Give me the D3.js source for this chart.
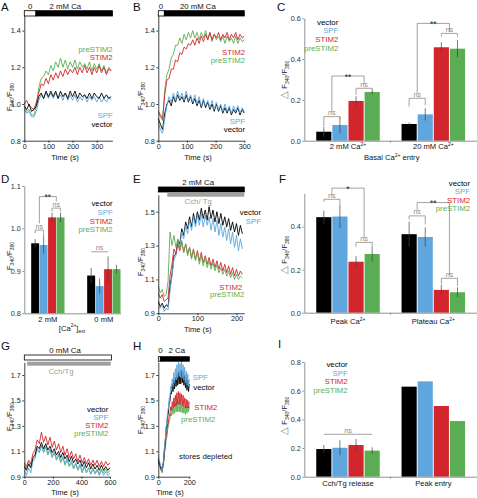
<!DOCTYPE html>
<html><head><meta charset="utf-8">
<script src="https://cdn.jsdelivr.net/npm/d3@7"></script>
<style>
body{margin:0;background:#fff;}
svg{display:block;font-family:"Liberation Sans",Arial,Helvetica,sans-serif;}
</style></head><body>
<svg id="fig" width="477" height="498"></svg>
<script>
// ---------------- DATA ----------------
const series = ["vector","SPF","STIM2","preSTIM2"];
const colors = {vector:"#000000", SPF:"#5ea6dd", STIM2:"#d3262c", preSTIM2:"#5bad53"};

// Panel A: 2 mM Ca re-addition
const tA = [0,10,20,30,40,50,60,70,80,90,100,110,120,130,140,150,160,170,180,190,200,210,220,230,240,250,260,270,280,290,300,310,320,330,340,350,360];
const aVector = [0.99,0.97,1.00,0.96,0.97,0.99,1.04,1.06,1.03,1.07,1.04,1.07,1.04,1.07,1.03,1.07,1.04,1.06,1.03,1.07,1.04,1.07,1.03,1.06,1.04,1.05,1.03,1.06,1.03,1.06,1.04,1.03,1.06,1.03,1.05,1.03,1.04];
const aSPF = [0.97,0.95,0.96,0.93,0.93,0.96,1.02,1.05,1.03,1.06,1.03,1.06,1.03,1.06,1.03,1.05,1.02,1.06,1.02,1.05,1.02,1.05,1.01,1.04,1.02,1.05,1.01,1.04,1.02,1.04,1.01,1.04,1.01,1.03,1.01,1.04,1.02];
const aSTIM2 = [1.00,1.02,0.99,0.98,0.97,1.01,1.06,1.11,1.10,1.14,1.11,1.16,1.13,1.17,1.14,1.18,1.15,1.19,1.16,1.19,1.17,1.20,1.16,1.20,1.17,1.21,1.17,1.20,1.16,1.20,1.17,1.21,1.17,1.20,1.16,1.19,1.18];
const aPreSTIM2 = [0.98,0.96,0.97,0.94,0.94,0.99,1.09,1.14,1.15,1.18,1.16,1.21,1.18,1.23,1.20,1.25,1.20,1.24,1.19,1.23,1.20,1.24,1.19,1.23,1.20,1.22,1.19,1.23,1.18,1.22,1.19,1.22,1.18,1.21,1.17,1.20,1.18];
const stimA = [[0,48,"0",24,"white"],[48,365,"2 mM Ca",170,"black"]];

// Panel B: 20 mM Ca
const tB = [0,7.5,15,22.5,30,37.5,45,52.5,60,67.5,75,82.5,90,97.5,105,112.5,120,127.5,135,142.5,150,157.5,165,172.5,180,187.5,195,202.5,210,217.5,225,232.5,240,247.5,255,262.5,270,277.5,285,292.5,300];
const bVector = [0.92,0.89,0.86,0.95,1.00,1.02,0.99,1.04,1.01,1.05,1.02,1.04,1.01,1.05,1.01,1.04,1.00,1.03,0.99,1.02,0.98,1.02,0.98,1.01,0.97,1.00,0.96,1.00,0.96,0.99,0.95,0.98,0.95,0.98,0.94,0.97,0.95,0.98,0.94,0.97,0.95];
const bSPF = [0.90,0.86,0.84,0.92,0.99,1.04,1.01,1.06,1.02,1.07,1.03,1.06,1.02,1.07,1.02,1.05,1.01,1.05,1.00,1.04,0.99,1.03,0.99,1.02,0.98,1.02,0.97,1.01,0.97,1.00,0.96,1.00,0.96,0.99,0.95,0.99,0.96,0.99,0.95,0.98,0.96];
const bSTIM2 = [0.96,0.94,0.92,1.05,1.13,1.14,1.19,1.19,1.24,1.23,1.28,1.27,1.31,1.30,1.33,1.32,1.35,1.32,1.36,1.33,1.37,1.34,1.38,1.35,1.39,1.35,1.38,1.36,1.39,1.35,1.38,1.36,1.39,1.35,1.38,1.36,1.39,1.35,1.38,1.36,1.37];
const bPreSTIM2 = [0.95,0.93,0.91,1.08,1.16,1.19,1.25,1.27,1.32,1.32,1.36,1.33,1.38,1.35,1.39,1.36,1.40,1.36,1.39,1.35,1.39,1.36,1.40,1.35,1.39,1.34,1.38,1.35,1.37,1.34,1.37,1.33,1.37,1.34,1.36,1.33,1.37,1.33,1.36,1.34,1.35];
const stimB = [[0,21,"0",9,"white"],[21,300,"20 mM Ca",138,"black"]];

// Panel C: basal Ca entry (bars)
const groupsC = ["2 mM Ca", "20 mM Ca"];
const cValues = [[0.044,0.077,0.195,0.239],[0.082,0.129,0.458,0.451]];
const cErrors = [[0.025,0.040,0.023,0.012],[0.007,0.030,0.025,0.043]];
const cSig = [
  {g:0,a:0,b:1,y:0.118,ya:0.072,yb:0.110,t:"ns"},
  {g:0,a:2,b:3,y:0.257,ya:0.225,yb:0.248,t:"ns"},
  {g:0,a:0.5,b:2.5,y:0.317,ya:0.140,yb:0.275,t:"**"},
  {g:1,a:0,b:1,y:0.208,ya:0.167,yb:0.175,t:"ns"},
  {g:1,a:2,b:3,y:0.526,ya:0.510,yb:0.510,t:"ns"},
  {g:1,a:0.5,b:2.5,y:0.575,ya:0.235,yb:0.534,t:"**"}
];

// Panel D
const groupsD = ["2 mM","0 mM"];
const dValues = [[0.965,0.961,1.026,1.026],[0.889,0.864,0.904,0.904]];
const dErrors = [[0.010,0.020,0.011,0.011],[0.018,0.018,0.030,0.010]];
const dSig = [
  {g:0,a:0,b:1,y:0.996,ya:0.989,yb:0.980,t:"ns"},
  {g:0,a:2,b:3,y:1.048,ya:1.040,yb:1.040,t:"ns"},
  {g:0,a:0.5,b:2.5,y:1.075,ya:1.012,yb:1.063,t:"**"},
  {g:1,a:0,b:2,y:0.945,ya:0.945,yb:0.945,t:"ns"}
];

// Panel E: 2 mM Ca + Cch/Tg
const tE = [0,5,10,15,20,25,30,35,40,45,50,55,60,65,70,75,80,85,90,95,100,105,110,115,120,125,130,135,140,145,150,155,160,165,170,175,180,185,190,195,200,205,210,215];
const eVector = [0.97,0.94,0.96,0.93,0.95,0.94,1.06,1.13,1.24,1.25,1.33,1.31,1.40,1.36,1.44,1.40,1.47,1.41,1.49,1.43,1.50,1.45,1.52,1.46,1.51,1.45,1.53,1.46,1.51,1.44,1.50,1.43,1.49,1.42,1.47,1.41,1.46,1.39,1.44,1.38,1.43,1.36,1.42,1.37];
const eSPF = [0.94,0.93,0.95,0.91,0.93,0.92,1.03,1.12,1.22,1.24,1.32,1.29,1.38,1.34,1.42,1.37,1.45,1.39,1.47,1.41,1.48,1.42,1.49,1.41,1.48,1.42,1.47,1.39,1.46,1.38,1.45,1.36,1.43,1.35,1.41,1.33,1.40,1.31,1.38,1.29,1.36,1.27,1.34,1.28];
const eSTIM2 = [1.02,0.99,1.01,0.97,0.98,0.99,1.12,1.19,1.28,1.25,1.31,1.27,1.32,1.26,1.31,1.25,1.29,1.23,1.28,1.22,1.27,1.21,1.26,1.20,1.24,1.19,1.23,1.18,1.22,1.17,1.21,1.16,1.20,1.15,1.19,1.14,1.18,1.13,1.17,1.12,1.16,1.12,1.15,1.13];
const ePreSTIM2 = [1.06,1.02,1.04,1.00,1.01,1.09,1.38,1.30,1.36,1.29,1.34,1.28,1.33,1.26,1.31,1.24,1.29,1.22,1.27,1.21,1.26,1.19,1.24,1.18,1.23,1.17,1.21,1.16,1.20,1.15,1.19,1.14,1.17,1.13,1.16,1.12,1.15,1.11,1.14,1.10,1.13,1.10,1.12,1.11];
const stimE = [[0,220,"2 mM Ca",102,"black"]];
const drugE = [[23,220,"Cch/ Tg",102]];

// Panel F
const groupsF = ["Peak Ca", "Plateau Ca"];
const fValues = [[0.444,0.447,0.237,0.273],[0.365,0.352,0.106,0.095]];
const fErrors = [[0.030,0.054,0.026,0.035],[0.058,0.045,0.023,0.023]];
const fSig = [
  {g:0,a:0,b:1,y:0.527,ya:0.516,yb:0.501,t:"ns"},
  {g:0,a:2,b:3,y:0.327,ya:0.307,yb:0.310,t:"ns"},
  {g:0,a:0.5,b:2.5,y:0.579,ya:0.545,yb:0.347,t:"*"},
  {g:1,a:0,b:1,y:0.450,ya:0.434,yb:0.410,t:"ns"},
  {g:1,a:2,b:3,y:0.160,ya:0.132,yb:0.125,t:"ns"},
  {g:1,a:0.5,b:2.5,y:0.512,ya:0.478,yb:0.175,t:"**"}
];

// Panel G: 0 mM Ca + Cch/Tg
const tG = [0,15,30,45,60,75,90,105,120,135,150,165,180,195,210,225,240,255,270,285,300,315,330,345,360,375,390,405,420,435,450,465,480,495,510,525,540,555,570,585,600];
const gVector = [0.98,0.95,1.00,0.97,1.05,1.07,1.14,1.12,1.17,1.12,1.16,1.11,1.14,1.09,1.12,1.07,1.10,1.05,1.09,1.04,1.07,1.02,1.06,1.01,1.04,1.00,1.03,0.98,1.02,0.97,1.01,0.96,1.00,0.96,0.99,0.95,0.99,0.95,0.98,0.95,0.97];
const gSPF = [0.95,0.91,0.97,0.93,1.02,1.04,1.12,1.09,1.15,1.10,1.14,1.08,1.12,1.06,1.10,1.04,1.08,1.02,1.06,1.00,1.05,0.99,1.03,0.97,1.01,0.96,1.00,0.94,0.99,0.93,0.97,0.92,0.96,0.92,0.95,0.91,0.95,0.91,0.94,0.91,0.93];
const gSTIM2 = [1.01,0.98,1.03,1.00,1.08,1.11,1.19,1.16,1.25,1.17,1.22,1.15,1.21,1.13,1.18,1.11,1.16,1.09,1.14,1.07,1.12,1.05,1.10,1.04,1.08,1.02,1.07,1.01,1.05,1.00,1.04,0.99,1.03,0.99,1.03,0.98,1.02,0.98,1.02,0.99,1.01];
const gPreSTIM2 = [0.99,0.96,1.01,0.98,1.04,1.06,1.12,1.09,1.14,1.09,1.13,1.07,1.11,1.05,1.09,1.03,1.07,1.01,1.05,0.99,1.03,0.98,1.01,0.96,1.00,0.95,0.99,0.93,0.98,0.93,0.97,0.92,0.97,0.93,0.96,0.92,0.96,0.93,0.96,0.93,0.95];
const stimG = [[0,610,"0 mM Ca",285,"white"]];
const drugG = [[20,605,"Cch/Tg",257]];

// Panel H: stores depleted, 2 Ca
const tH = [0,5,10,15,20,25,30,35,40,45,50,55,60,65,70,75,80,85,90,95,100,105,110,115,120,125,130,135,140,145,150,155,160,165,170,175,180,185,190,195,200];
const hVector = [1.04,1.01,1.00,0.97,0.97,0.95,0.99,1.04,1.13,1.18,1.27,1.30,1.38,1.40,1.48,1.49,1.56,1.55,1.63,1.57,1.66,1.59,1.68,1.61,1.70,1.62,1.72,1.63,1.73,1.63,1.74,1.64,1.72,1.62,1.70,1.60,1.68,1.58,1.66,1.57,1.63];
const hSPF = [1.07,1.02,1.02,0.98,0.98,0.94,0.99,1.03,1.14,1.19,1.29,1.32,1.41,1.44,1.52,1.53,1.61,1.58,1.67,1.61,1.72,1.64,1.75,1.66,1.78,1.68,1.80,1.69,1.79,1.68,1.81,1.68,1.78,1.66,1.76,1.64,1.73,1.62,1.71,1.61,1.67];
const hSTIM2 = [1.03,1.00,1.00,0.96,0.97,0.94,0.99,1.02,1.10,1.14,1.22,1.24,1.31,1.32,1.39,1.38,1.45,1.42,1.49,1.44,1.52,1.45,1.54,1.46,1.56,1.47,1.57,1.47,1.56,1.47,1.55,1.46,1.54,1.45,1.52,1.44,1.51,1.44,1.50,1.44,1.49];
const hPreSTIM2 = [1.02,0.99,0.99,0.95,0.96,0.93,0.98,1.01,1.09,1.12,1.19,1.21,1.27,1.29,1.34,1.35,1.40,1.38,1.44,1.39,1.47,1.40,1.48,1.41,1.49,1.41,1.49,1.41,1.48,1.41,1.47,1.40,1.46,1.40,1.45,1.39,1.45,1.40,1.46,1.41,1.45];
const stimH = [[0,13,"0",14,"white"],[13,200,"2 Ca",119,"black"]];

// Panel I
const groupsI = ["Cch/Tg release", "Peak entry"];
const iValues = [[0.193,0.202,0.221,0.182],[0.628,0.665,0.493,0.388]];
const iErrors = [[0.028,0.052,0.042,0.023],[0,0,0,0]];
const iSig = [{g:0,a:0,b:3,y:0.296,ya:0.296,yb:0.296,t:"ns"}];

// ---------------- DRAWING ----------------
const svg = d3.select("#fig");
const FONT = '"Liberation Sans", Arial, Helvetica, sans-serif';
const FS = 7.6;

function rich(sel, parts, size) {
  let shift = 0;
  parts.forEach(([txt, kind]) => {
    const ts = sel.append("tspan").text(txt);
    const target = kind === "sub" ? size * 0.32 : kind === "sup" ? -size * 0.42 : 0;
    ts.attr("dy", target - shift);
    shift = target;
    if (kind !== "n") ts.attr("font-size", size * 0.66);
  });
}
function txt(x, y, s, opts = {}) {
  return svg.append("text").attr("x", x).attr("y", y).text(s)
    .attr("font-size", opts.size || FS).attr("fill", opts.fill || "#111")
    .attr("text-anchor", opts.anchor || "start");
}
function panelLetter(x, y, s) { txt(x, y, s, {size: 11.5, fill: "#111"}); }
function yLabel(x, y, delta) {
  const t = svg.append("text").attr("transform", `translate(${x},${y}) rotate(-90)`)
    .attr("text-anchor", "middle").attr("font-size", FS).attr("fill", "#222");
  if (delta) t.append("tspan").text("\u25B3 ").attr("fill", "#888").attr("font-size", 9.5);
  rich(t, [["F","n"],["340","sub"],["/F","n"],["380","sub"]], FS);
}
function styleAxis(a, stroke, fill) {
  a.attr("font-size", 7.3).attr("font-family", FONT);
  a.selectAll("text").attr("fill", fill);
  a.selectAll("path,line").attr("stroke", stroke).attr("stroke-width", 0.8);
}
function legend(names, x, ys, anchor) {
  names.forEach((n, i) => txt(x, ys[i], n, {fill: colors[n], anchor: anchor || "end", size: 7.8}));
}

function linePanel(o) {
  const x = d3.scaleLinear().domain(o.xDomain).range(o.xRange);
  const y = d3.scaleLinear().domain(o.yDomain).range(o.yRange);
  const g = svg.append("g");
  const line = d3.line().x(d => x(d[0])).y(d => y(d[1]));
  o.traces.forEach(tr => {
    const pts = tr.v.map((v, i) => [tr.t[i], v]).filter(d => d[0] !== undefined);
    g.append("path").attr("d", line(pts)).attr("fill", "none")
      .attr("stroke", colors[tr.name]).attr("stroke-width", 0.9).attr("stroke-linejoin", "round");
  });
  const ya = g.append("g").attr("transform", `translate(${o.xRange[0]},0)`)
    .call(d3.axisLeft(y).tickValues(o.yTicks).tickSize(2).tickSizeOuter(0).tickPadding(1.5).tickFormat(d3.format(".1f")));
  const xa = g.append("g").attr("transform", `translate(0,${o.yRange[0]})`)
    .call(d3.axisBottom(x).tickValues(o.xTicks).tickSize(2).tickSizeOuter(0).tickPadding(1).tickFormat(d3.format("d")));
  styleAxis(ya, "#111", "#222"); styleAxis(xa, "#111", "#222");
  return {x, y};
}
function stimBars(x, list, y0, h, labelY) {
  list.forEach(s => {
    svg.append("rect").attr("x", x(s[0])).attr("y", y0).attr("width", x(s[1]) - x(s[0])).attr("height", h)
      .attr("fill", s[4] === "black" ? "#000" : "#fff").attr("stroke", "#000").attr("stroke-width", 0.8);
    txt(x(s[3]), labelY, s[2], {anchor: "middle", size: 7.8});
  });
}
function drugBars(x, list, y0, h, labelY) {
  list.forEach(s => {
    svg.append("rect").attr("x", x(s[0])).attr("y", y0).attr("width", x(s[1]) - x(s[0])).attr("height", h)
      .attr("fill", "#a0a0a0");
    txt(x(s[3]), labelY, s[2], {anchor: "middle", size: 7.8, fill: "#a0a0a0"});
  });
}

function barPanel(o) {
  const x0 = d3.scaleBand().domain(o.groups).range(o.xRange).paddingInner(o.padInner).paddingOuter(o.padOuter).align(o.align);
  const x1 = d3.scaleBand().domain(series).range([0, x0.bandwidth()]).paddingInner(0.06);
  const y = d3.scaleLinear().domain(o.yDomain).range(o.yRange);
  const g = svg.append("g");
  const base = y(o.yDomain[0]);
  o.groups.forEach((gn, gi) => {
    series.forEach((sn, si) => {
      const v = o.values[gi][si];
      g.append("rect").attr("x", x0(gn) + x1(sn)).attr("y", y(v)).attr("width", x1.bandwidth())
        .attr("height", base - y(v)).attr("fill", colors[sn]);
      const e = o.errors[gi][si];
      if (e > 0) {
        const cx = x0(gn) + x1(sn) + x1.bandwidth() / 2;
        g.append("line").attr("x1", cx).attr("x2", cx).attr("y1", y(v - e)).attr("y2", y(v + e))
          .attr("stroke", "#444").attr("stroke-width", 0.7);
      }
    });
  });
  const cxOf = (gi, idx) => x0(o.groups[gi]) + x1.step() * idx + x1.bandwidth() / 2;
  o.sig.forEach(s => {
    const xa = cxOf(s.g, s.a), xb = cxOf(s.g, s.b);
    g.append("path").attr("d", `M${xa},${y(s.ya)}V${y(s.y)}H${xb}V${y(s.yb)}`)
      .attr("fill", "none").attr("stroke", "#8a8a8a").attr("stroke-width", 0.8);
    if (s.t === "ns") txt((xa + xb) / 2, y(s.y) - 1.5, "ns", {anchor: "middle", size: 7.2, fill: "#8a8a8a"});
    else txt((xa + xb) / 2, y(s.y) + 3.6, s.t, {anchor: "middle", size: 8.5, fill: "#222"});
  });
  const ya = g.append("g").attr("transform", `translate(${o.yAxisX},0)`)
    .call(d3.axisLeft(y).tickValues(o.yTicks).tickSize(2).tickSizeOuter(0).tickPadding(1.5).tickFormat(d3.format(".1f")));
  styleAxis(ya, "#777", "#333");
  const xa = g.append("g").attr("transform", `translate(0,${base})`)
    .call(d3.axisBottom(d3.scaleLinear().domain([0, 1]).range([o.yAxisX, o.xEnd])).tickValues([]).tickSizeOuter(0));
  styleAxis(xa, "#777", "#333");
  if (o.midTick) {
    const mx = (x0(o.groups[0]) + x0.bandwidth() + x0(o.groups[1])) / 2;
    g.append("line").attr("x1", mx).attr("x2", mx).attr("y1", base).attr("y2", base + 2).attr("stroke", "#777").attr("stroke-width", 0.8);
  }
  o.catLabels.forEach((parts, gi) => {
    const t = svg.append("text").attr("x", x0(o.groups[gi]) + x0.bandwidth() / 2).attr("y", o.catY)
      .attr("text-anchor", "middle").attr("font-size", FS).attr("fill", "#111");
    rich(t, parts, FS);
  });
  return {x0, y};
}

// ---- Panel A ----
panelLetter(1, 11, "A");
const pA = linePanel({xDomain:[0,365], xRange:[24.3,112.4], yDomain:[0.8,1.49], yRange:[140.7,14.1],
  yTicks:[0.8,1.0,1.2,1.4], xTicks:[0,100,200,300],
  traces:[{name:"preSTIM2",t:tA,v:aPreSTIM2},{name:"STIM2",t:tA,v:aSTIM2},{name:"SPF",t:tA,v:aSPF},{name:"vector",t:tA,v:aVector}]});
stimBars(pA.x, stimA, 10.7, 5.3, 8.5);
yLabel(12, 97, false);
txt(65, 159.5, "Time (s)", {anchor:"middle"});
legend(["preSTIM2","STIM2","SPF","vector"], 112.7, [52,59.5,118,126.5]);

// ---- Panel B ----
panelLetter(133, 11, "B");
const pB = linePanel({xDomain:[0,300], xRange:[158.3,244.3], yDomain:[0.8,1.49], yRange:[140.7,14.1],
  yTicks:[0.8,1.0,1.2,1.4], xTicks:[0,100,200,300],
  traces:[{name:"preSTIM2",t:tB,v:bPreSTIM2},{name:"STIM2",t:tB,v:bSTIM2},{name:"vector",t:tB,v:bVector},{name:"SPF",t:tB,v:bSPF}]});
stimBars(pB.x, stimB, 10.7, 5.3, 8.5);
yLabel(143, 96, false);
txt(198, 159.5, "Time (s)", {anchor:"middle"});
legend(["STIM2","preSTIM2","SPF","vector"], 245, [55,63,124,132]);

// ---- Panel C ----
panelLetter(277, 11, "C");
barPanel({groups:groupsC, values:cValues, errors:cErrors, sig:cSig,
  xRange:[304.3,477], padInner:0.2556, padOuter:0.14, align:0.5, xEnd:477, yAxisX:304.3,
  yDomain:[0,0.6], yRange:[140.7,18.3], yTicks:[0,0.2,0.4,0.6], midTick:true, catY:149,
  catLabels:[[["2 mM Ca","n"],["2+","sup"]],[["20 mM Ca","n"],["2+","sup"]]]});
yLabel(287, 80, true);
{ const t = svg.append("text").attr("x", 391.7).attr("y", 160).attr("text-anchor","middle").attr("font-size",FS).attr("fill","#111");
  rich(t, [["Basal Ca","n"],["2+","sup"],[" entry","n"]], FS); }
legend(series, 338.3, [24.5,33,41.5,50.5]);

// ---- Panel D ----
panelLetter(1, 183, "D");
barPanel({groups:groupsD, values:dValues, errors:dErrors, sig:dSig,
  xRange:[24.3,120.5], padInner:0.405, padOuter:0.0615, align:1, xEnd:120.5, yAxisX:24.3,
  yDomain:[0.8,1.1], yRange:[313.3,186], yTicks:[0.8,0.9,1.0,1.1], midTick:false, catY:322,
  catLabels:[[["2 mM","n"]],[["0 mM","n"]]]});
yLabel(12, 256, false);
{ const t = svg.append("text").attr("x", 72).attr("y", 330.5).attr("text-anchor","middle").attr("font-size",FS).attr("fill","#111");
  rich(t, [["[Ca","n"],["2+","sup"],["]","n"],["ext","sub"]], FS); }
legend(series, 112.7, [206,214.5,223.5,232]);

// ---- Panel E ----
panelLetter(133, 183, "E");
const pE = linePanel({xDomain:[0,220], xRange:[158.3,244.3], yDomain:[0.9,1.6], yRange:[313.3,194.8],
  yTicks:[0.9,1.1,1.3,1.5], xTicks:[0,100,200],
  traces:[{name:"vector",t:tE,v:eVector},{name:"SPF",t:tE,v:eSPF},{name:"STIM2",t:tE,v:eSTIM2},{name:"preSTIM2",t:tE,v:ePreSTIM2}]});
stimBars(pE.x, stimE, 187, 5, 185);
drugBars(pE.x, drugE, 192.7, 4, 204);
yLabel(143, 262, false);
txt(197.7, 332, "Time (s)", {anchor:"middle"});
legend(["vector","SPF"], 261, [215,223.5]);
legend(["STIM2"], 242.3, [289.5]);
legend(["preSTIM2"], 244.3, [297]);

// ---- Panel F ----
panelLetter(279, 183, "F");
barPanel({groups:groupsF, values:fValues, errors:fErrors, sig:fSig,
  xRange:[304.3,477], padInner:0.2556, padOuter:0.14, align:0.5, xEnd:477, yAxisX:304.3,
  yDomain:[0,0.555], yRange:[312.7,193.3], yTicks:[0,0.2,0.4], midTick:true, catY:324,
  catLabels:[[["Peak Ca","n"],["2+","sup"]],[["Plateau Ca","n"],["2+","sup"]]]});
yLabel(287, 255, true);
legend(series, 470, [186,194.3,202.6,211]);

// ---- Panel G ----
panelLetter(1, 350, "G");
const pG = linePanel({xDomain:[0,600], xRange:[24.3,110], yDomain:[0.9,1.8], yRange:[476.7,362.3],
  yTicks:[0.9,1.1,1.3,1.5,1.7], xTicks:[0,200,400,600],
  traces:[{name:"preSTIM2",t:tG,v:gPreSTIM2},{name:"SPF",t:tG,v:gSPF},{name:"vector",t:tG,v:gVector},{name:"STIM2",t:tG,v:gSTIM2}]});
stimBars(pG.x, stimG, 355, 5, 353);
drugBars(pG.x, drugG, 361.7, 4, 373.5);
yLabel(12, 417, false);
txt(65, 495, "Time (s)", {anchor:"middle"});
legend(series, 108.3, [411.5,419.5,427.5,435.5]);

// ---- Panel H ----
panelLetter(133, 350, "H");
const pH = linePanel({xDomain:[0,200], xRange:[158.3,189.3], yDomain:[0.9,1.8], yRange:[476.7,362.3],
  yTicks:[0.9,1.1,1.3,1.5,1.7], xTicks:[0,200],
  traces:[{name:"preSTIM2",t:tH,v:hPreSTIM2},{name:"STIM2",t:tH,v:hSTIM2},{name:"vector",t:tH,v:hVector},{name:"SPF",t:tH,v:hSPF}]});
stimBars(pH.x, stimH, 356.7, 4.5, 353);
yLabel(143, 420, false);
txt(170, 495, "Time (s)", {anchor:"middle"});
txt(192.7, 380, "SPF", {fill:colors.SPF, size:7.8});
txt(193.3, 389.5, "vector", {fill:colors.vector, size:7.8});
txt(194.3, 410, "STIM2", {fill:colors.STIM2, size:7.8});
txt(181, 421.5, "preSTIM2", {fill:colors.preSTIM2, size:7.8});
txt(179, 458.5, "stores depleted", {size:7.8});

// ---- Panel I ----
panelLetter(278, 348, "I");
barPanel({groups:groupsI, values:iValues, errors:iErrors, sig:iSig,
  xRange:[304.3,477], padInner:0.2556, padOuter:0.14, align:0.5, xEnd:477, yAxisX:304.3,
  yDomain:[0,0.8], yRange:[476.7,362], yTicks:[0,0.2,0.4,0.6,0.8], midTick:true, catY:486,
  catLabels:[[["Cch/Tg release","n"]],[["Peak entry","n"]]]});
yLabel(287, 416, true);
legend(series, 347.7, [367,375.5,383.5,392.5]);
</script>
</body></html>
